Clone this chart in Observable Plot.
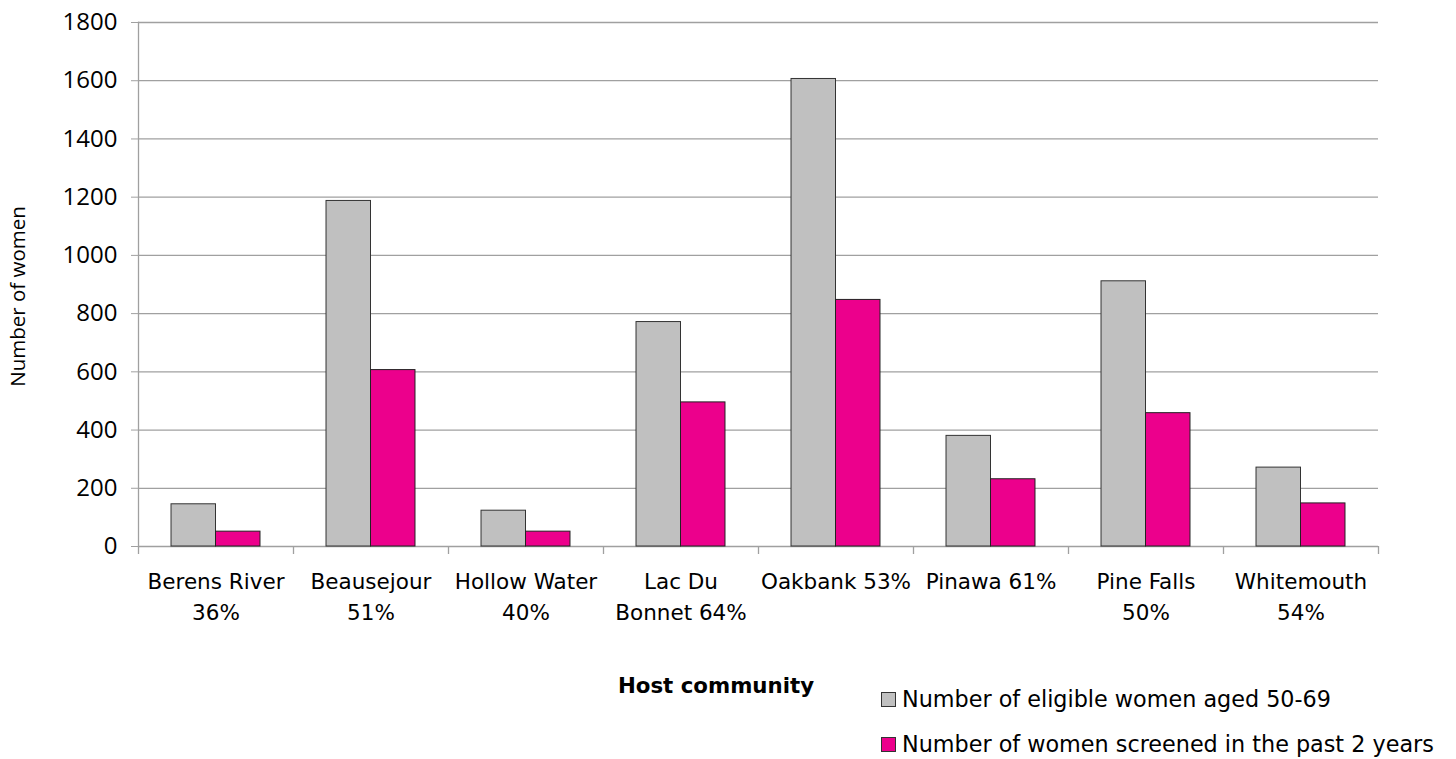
<!DOCTYPE html>
<html>
<head>
<meta charset="utf-8">
<script src="https://cdn.jsdelivr.net/npm/d3@7"></script>
<script src="https://cdn.jsdelivr.net/npm/@observablehq/plot@0.6"></script>
<style>
  html, body { margin: 0; padding: 0; background: #fff; }
  #wrap { position: relative; width: 1456px; height: 759px; overflow: hidden; }
  #below { position: relative; width: 1456px; height: 99px; font-family: "DejaVu Sans", sans-serif; }
  .xtitle { position: absolute; left: 0; width: 1432px; text-align: center; top: 13px; font-size: 21.3px; font-weight: bold; color: #000; }
  .leg { position: absolute; left: 881px; font-size: 22.3px; color: #000; display: flex; align-items: center; white-space: nowrap; }
  .sw { width: 15px; height: 15px; border: 1px solid #333; box-sizing: border-box; margin-right: 6px; }
</style>
</head>
<body>
<div id="wrap">
  <div id="chart"></div>
  <div id="below">
    <div class="xtitle">Host community</div>
    <div class="leg" style="top:26px"><span class="sw" id="sw0"></span><span id="lg0"></span></div>
    <div class="leg" style="top:71px"><span class="sw" id="sw1"></span><span id="lg1"></span></div>
  </div>
</div>
<script>
const communities = ["Berens River", "Beausejour", "Hollow Water", "Lac Du Bonnet", "Oakbank", "Pinawa", "Pine Falls", "Whitemouth"];
const tickLabels = ["Berens River\n36%", "Beausejour\n51%", "Hollow Water\n40%", "Lac Du\nBonnet 64%", "Oakbank 53%", "Pinawa 61%", "Pine Falls\n50%", "Whitemouth\n54%"];
const eligible = [145, 1187, 123, 771, 1606, 380, 911, 271];
const screened = [51, 606, 51, 495, 847, 231, 458, 148];
const seriesNames = ["Number of eligible women aged 50-69", "Number of women screened in the past 2 years"];
const seriesColors = ["#C0C0C0", "#EC008C"];
const yTicks = [0, 200, 400, 600, 800, 1000, 1200, 1400, 1600, 1800];

const W = 1456, H = 660, mL = 138, mR = 78, mT = 22, mB = 114;
const bw = (W - mL - mR) / communities.length;
const outer = bw * 0.213;
const half = bw / 2;

const rows = communities.map((c, i) => ({community: c, eligible: eligible[i], screened: screened[i]}));
const labelOf = new Map(communities.map((c, i) => [c, tickLabels[i]]));

const font = "'DejaVu Sans', sans-serif";

const plot = Plot.plot({
  width: W, height: H,
  marginLeft: mL, marginRight: mR, marginTop: mT, marginBottom: mB,
  style: {fontFamily: font, background: "#fff", color: "#000"},
  x: {domain: communities, padding: 0, label: null},
  y: {domain: [0, 1800], label: null},
  marks: [
    Plot.gridY(yTicks, {stroke: "#a0a0a0", strokeOpacity: 1, strokeWidth: 1.3}),
    Plot.frame({anchor: "left", stroke: "#a0a0a0", strokeWidth: 1.3}),
    Plot.axisY(yTicks, {tickSize: 7, tickPadding: 14, stroke: "#a0a0a0", fontSize: 24, fontFamily: "'Open Sans', sans-serif", label: null, tickFormat: d => String(d)}),
    Plot.barY(rows, {x: "community", y: "eligible", fill: seriesColors[0], stroke: "#333", strokeWidth: 1, insetLeft: outer, insetRight: half}),
    Plot.barY(rows, {x: "community", y: "screened", fill: seriesColors[1], stroke: "#222", strokeWidth: 1, insetLeft: half, insetRight: outer}),
    Plot.axisX({tickSize: 0, tickPadding: 20, fontSize: 21.5, lineHeight: 1.45, tickFormat: d => labelOf.get(d), label: null}),
    Plot.axisX({tickSize: 8, stroke: "#a0a0a0", strokeWidth: 1.3, tickFormat: () => "", dx: -half, label: null}),
    Plot.axisX([communities[communities.length - 1]], {tickSize: 8, stroke: "#a0a0a0", strokeWidth: 1.3, tickFormat: () => "", dx: half, label: null}),
    Plot.text(["Number of women"], {frameAnchor: "left", textAnchor: "middle", dx: -120, dy: 12, rotate: -90, fontSize: 20.5, fontFamily: "'Open Sans', sans-serif", fill: "#000"})
  ]
});
document.getElementById("chart").appendChild(plot);

for (let i = 0; i < 2; i++) {
  document.getElementById("sw" + i).style.background = seriesColors[i];
  document.getElementById("lg" + i).textContent = seriesNames[i];
}
</script>
</body>
</html>
